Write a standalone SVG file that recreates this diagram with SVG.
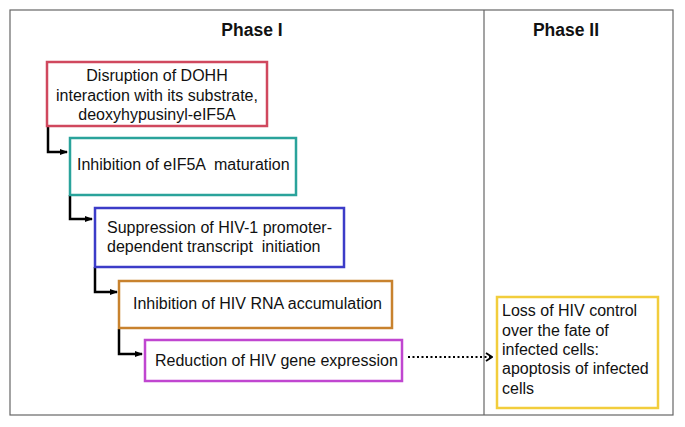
<svg xmlns="http://www.w3.org/2000/svg" width="685" height="427" viewBox="0 0 685 427">
<defs>
<marker id="ah" markerWidth="8" markerHeight="6" refX="7" refY="3" orient="auto" markerUnits="userSpaceOnUse">
<path d="M0,0 L8,3 L0,6 Z" fill="#000"/>
</marker>
<marker id="chev" markerWidth="8" markerHeight="10" refX="7" refY="5" orient="auto" markerUnits="userSpaceOnUse">
<path d="M1,1 L7,5 L1,9" fill="none" stroke="#000" stroke-width="1.8"/>
</marker>
</defs>
<style>
.frame{fill:none;stroke:#666;stroke-width:1.2}
.box{fill:#fff;stroke-width:2.5}
.t{font-family:"Liberation Sans",Arial,sans-serif;font-size:16px;fill:#111}
.h{font-family:"Liberation Sans",Arial,sans-serif;font-size:17.5px;font-weight:bold;fill:#111}
.conn{fill:none;stroke:#000;stroke-width:2.5}
.dot{fill:none;stroke:#000;stroke-width:2;stroke-dasharray:2 2.5}
</style>
<rect width="685" height="427" fill="#fff"/>
<g id="frame">
<rect class="frame" x="10" y="10" width="663" height="405"/>
<line class="frame" x1="484" y1="10" x2="484" y2="415"/>
<text class="h" x="252" y="36" text-anchor="middle">Phase I</text>
<text class="h" x="566" y="36" text-anchor="middle">Phase II</text>
</g>
<g id="connectors">
<path class="conn" d="M48,126 V152 H67" marker-end="url(#ah)"/>
<path class="conn" d="M70,195 V219 H92" marker-end="url(#ah)"/>
<path class="conn" d="M95,267 V292 H117" marker-end="url(#ah)"/>
<path class="conn" d="M119,329 V354 H142" marker-end="url(#ah)"/>
<path class="dot" d="M408,357 H492" marker-end="url(#chev)"/>
</g>
<g id="n1">
<rect class="box" x="47" y="62" width="220" height="64" stroke="#d0485e"/>
<text class="t" x="157" y="81" text-anchor="middle">Disruption of DOHH</text>
<text class="t" x="157" y="100.5" text-anchor="middle">interaction with its substrate,</text>
<text class="t" x="157" y="120" text-anchor="middle">deoxyhypusinyl-eIF5A</text>
</g>
<g id="n2">
<rect class="box" x="70" y="138" width="226" height="57" stroke="#2aa39b"/>
<text class="t" x="77" y="170" xml:space="preserve">Inhibition of eIF5A  maturation</text>
</g>
<g id="n3">
<rect class="box" x="95" y="208" width="249" height="59" stroke="#3c3cc8"/>
<text class="t" x="107" y="233">Suppression of HIV-1 promoter-</text>
<text class="t" x="107" y="252" xml:space="preserve">dependent transcript  initiation</text>
</g>
<g id="n4">
<rect class="box" x="119" y="281" width="273" height="47" stroke="#c8822e"/>
<text class="t" x="133" y="309">Inhibition of HIV RNA accumulation</text>
</g>
<g id="n5">
<rect class="box" x="145" y="340" width="257" height="41" stroke="#c046d0"/>
<text class="t" x="155" y="366">Reduction of HIV gene expression</text>
</g>
<g id="n6">
<rect class="box" x="497" y="297" width="161" height="111" stroke="#f2cd3c"/>
<text class="t" x="502" y="316">Loss of HIV control</text>
<text class="t" x="502" y="335.5">over the fate of</text>
<text class="t" x="502" y="355">infected cells:</text>
<text class="t" x="502" y="374">apoptosis of infected</text>
<text class="t" x="502" y="393.5">cells</text>
</g>
</svg>
